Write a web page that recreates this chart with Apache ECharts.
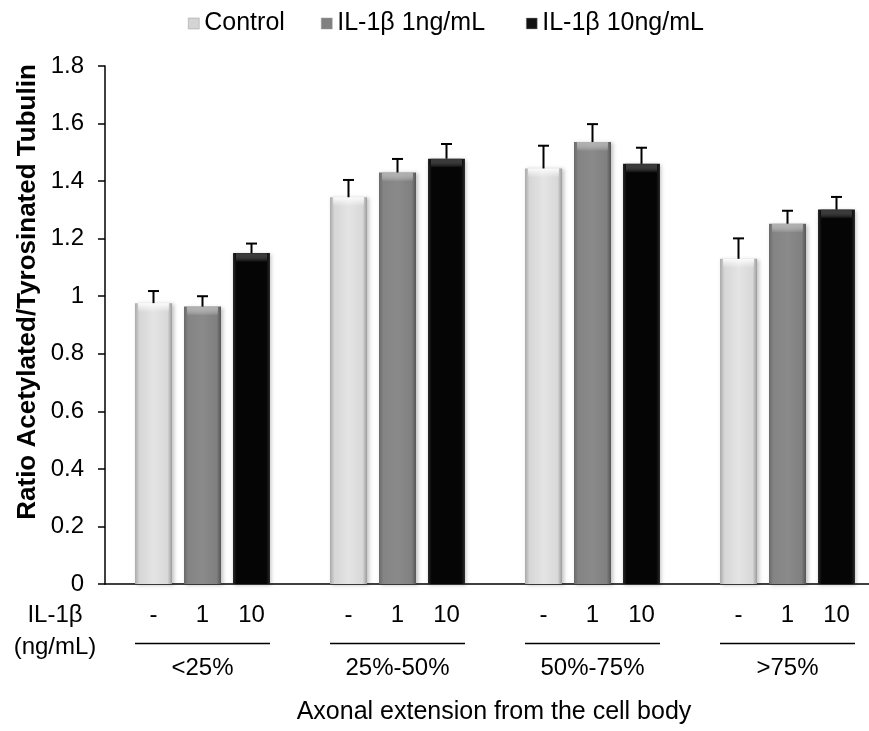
<!DOCTYPE html>
<html>
<head>
<meta charset="utf-8">
<script src="https://cdn.jsdelivr.net/npm/echarts@6/dist/echarts.min.js"></script>
<style>html,body{margin:0;padding:0;background:#fff}#c{width:869px;height:731px}</style>
</head>
<body>
<div id="c"></div>
<script>
const categories = ['<25%', '25%-50%', '50%-75%', '>75%'];
const seriesNames = ['Control', 'IL-1β 1ng/mL', 'IL-1β 10ng/mL'];
const controlVals = [0.976, 1.344, 1.444, 1.130];
const il1Vals = [0.964, 1.430, 1.536, 1.252];
const il10Vals = [1.150, 1.478, 1.460, 1.301];
const controlErr = [0.042, 0.060, 0.079, 0.071];
const il1Err = [0.036, 0.047, 0.062, 0.045];
const il10Err = [0.033, 0.051, 0.056, 0.044];
const doseLabels = ['-', '1', '10'];
const yTicks = [0, 0.2, 0.4, 0.6, 0.8, 1, 1.2, 1.4, 1.6, 1.8];

const FONT = 'Liberation Sans, Arial, sans-serif';
const FS = 24;
const BAR_W = 37, STEP = 49;
const GROUP_PX = 195;                 // pixel spacing of groups in the original
const X_MIN = -0.5, X_MAX = X_MIN + (869 - 105) / GROUP_PX;

function hGrad(stops) {
  return {type: 'linear', x: 0, y: 0, x2: 1, y2: 0,
    colorStops: stops.map(s => ({offset: s[0], color: s[1]}))};
}
const fills = [
  hGrad([[0, '#a9a9a9'], [0.12, '#d6d6d6'], [0.5, '#e4e4e4'], [0.88, '#d8d8d8'], [1, '#9c9c9c']]),
  hGrad([[0, '#6a6a6a'], [0.12, '#848484'], [0.5, '#8a8a8a'], [0.88, '#808080'], [1, '#555555']]),
  hGrad([[0, '#2a2a2a'], [0.1, '#050505'], [0.5, '#050505'], [0.9, '#050505'], [1, '#2a2a2a']])
];
const topGlow = ['rgba(255,255,255,0.9)', 'rgba(185,185,185,0.8)', 'rgba(80,80,80,0.6)'];
const legendColors = ['#d4d4d4', '#808080', '#111111'];
const legendLeft = [183, 316, 521];
const vals = [controlVals, il1Vals, il10Vals];
const errs = [controlErr, il1Err, il10Err];

const errData = [];
for (let s = 0; s < 3; s++) for (let i = 0; i < categories.length; i++) errData.push([i, s, vals[s][i], errs[s][i]]);

const barSeries = seriesNames.map((n, s) => ({
  name: n, type: 'bar', data: vals[s].map((v, i) => [i, v]), barWidth: BAR_W,
  barGap: ((STEP - BAR_W) / BAR_W * 100).toFixed(1) + '%',
  itemStyle: {color: fills[s], shadowBlur: 4, shadowColor: 'rgba(0,0,0,0.25)', shadowOffsetX: 1.5, shadowOffsetY: 1},
  emphasis: {disabled: true}
}));

const chart = echarts.init(document.getElementById('c'), null, {renderer: 'canvas'});
chart.setOption({
  animation: false,
  color: legendColors,
  legend: seriesNames.map((n, s) => ({
    top: 6, left: legendLeft[s], itemWidth: 11, itemHeight: 11, icon: 'rect', selectedMode: false,
    textStyle: {fontFamily: FONT, fontSize: 25, color: '#000'},
    data: [{name: n, itemStyle: {color: legendColors[s], borderColor: '#999', borderWidth: 0.5}}]
  })),
  grid: {left: 105, right: 0, top: 66, bottom: 147},
  xAxis: {
    type: 'value', min: X_MIN, max: X_MAX, interval: 0.5,
    axisLine: {onZero: false, lineStyle: {color: '#000', width: 1.5}},
    axisTick: {show: false},
    splitLine: {show: false},
    axisLabel: {margin: 72, fontFamily: FONT, fontSize: FS, color: '#000', showMaxLabel: false, showMinLabel: false,
      formatter: v => { const r = Math.round(v); return (Math.abs(v - r) < 1e-6 && r >= 0 && r < categories.length) ? categories[r] : ''; }}
  },
  yAxis: {
    type: 'value', min: 0, max: 1.8, interval: 0.2,
    axisLine: {show: true, onZero: false, lineStyle: {color: '#000', width: 1.5}},
    axisTick: {show: true, inside: false, length: 7, lineStyle: {color: '#000', width: 1.5}},
    splitLine: {show: false},
    axisLabel: {margin: 21, fontFamily: FONT, fontSize: FS, color: '#000',
      formatter: v => { const t = yTicks.find(k => Math.abs(k - v) < 1e-6); return String(t !== undefined ? t : v); }}
  },
  graphic: [
    {type: 'text', x: 28, y: 292, rotation: Math.PI / 2,
      style: {text: 'Ratio Acetylated/Tyrosinated Tubulin', font: 'bold 26px ' + FONT, fill: '#000', align: 'center', verticalAlign: 'middle'}},
    {type: 'text', x: 494, y: 712, style: {text: 'Axonal extension from the cell body', font: '25px ' + FONT, fill: '#000', align: 'center', verticalAlign: 'middle'}},
    {type: 'text', x: 55, y: 615, style: {text: 'IL-1β', font: FS + 'px ' + FONT, fill: '#000', align: 'center', verticalAlign: 'middle'}},
    {type: 'text', x: 55, y: 647, style: {text: '(ng/mL)', font: FS + 'px ' + FONT, fill: '#000', align: 'center', verticalAlign: 'middle'}}
  ],
  series: barSeries.concat([
    {
      type: 'custom', name: 'err', coordinateSystem: 'cartesian2d', clip: false, z: 5,
      encode: {x: 0, y: 2}, data: errData,
      renderItem: function (params, api) {
        const base = api.coord([api.value(0), 0]);
        const s = api.value(1);
        const x = base[0] + (s - 1) * STEP;
        const yTop = api.coord([api.value(0), api.value(2)])[1];
        const yErr = api.coord([api.value(0), api.value(2) + api.value(3)])[1];
        const st = {stroke: '#000', lineWidth: 2};
        return {type: 'group', children: [
          {type: 'rect', shape: {x: x - BAR_W / 2 + 3, y: yTop, width: BAR_W - 6, height: 9},
            style: {fill: {type: 'linear', x: 0, y: 0, x2: 0, y2: 1, colorStops: [{offset: 0, color: topGlow[s]}, {offset: 1, color: 'rgba(255,255,255,0)'}]}}},
          {type: 'line', shape: {x1: x, y1: yTop, x2: x, y2: yErr}, style: st},
          {type: 'line', shape: {x1: x - 5.5, y1: yErr, x2: x + 5.5, y2: yErr}, style: st},
          {type: 'text', style: {text: doseLabels[s], x: x, y: base[1] + 31, align: 'center', verticalAlign: 'middle', font: FS + 'px ' + FONT, fill: '#000'}}
        ]};
      }
    },
    {
      type: 'custom', name: 'under', coordinateSystem: 'cartesian2d', clip: false, z: 5,
      encode: {x: 0, y: 1}, data: categories.map((c, i) => [i, 0]),
      renderItem: function (params, api) {
        const base = api.coord([api.value(0), 0]);
        const half = STEP + BAR_W / 2;
        return {type: 'line', shape: {x1: base[0] - half, y1: base[1] + 59.5, x2: base[0] + half, y2: base[1] + 59.5}, style: {stroke: '#000', lineWidth: 1.5}};
      }
    }
  ])
});
</script>
</body>
</html>
